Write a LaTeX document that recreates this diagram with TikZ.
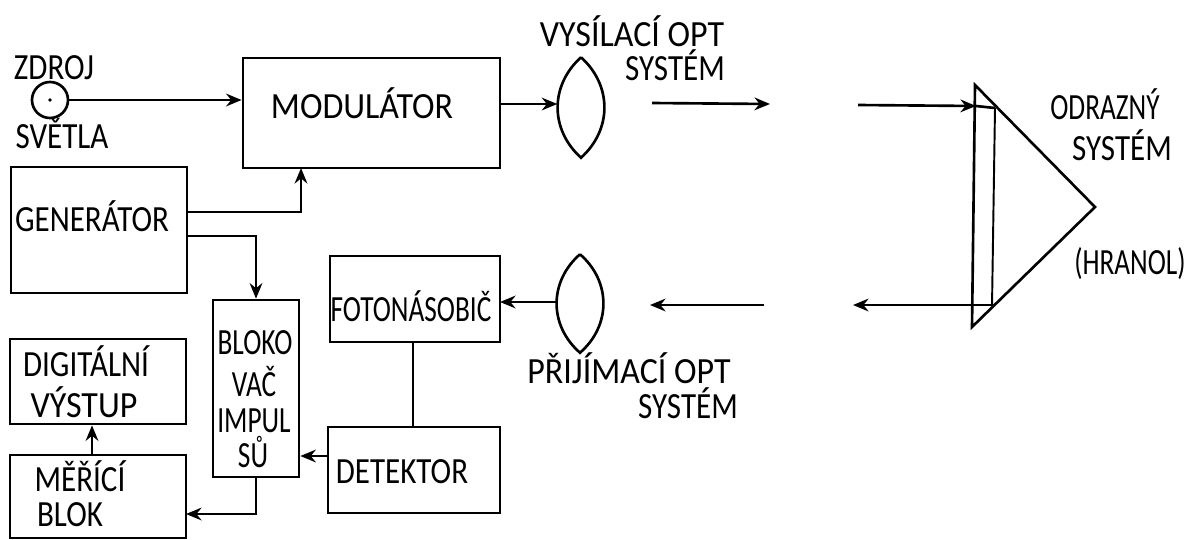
\documentclass[tikz,border=0pt]{standalone}
\usepackage{fontspec}
\setmainfont[FakeStretch=0.84]{Carlito}
\newfontfamily\uzky[FakeStretch=0.74]{Carlito}
\newfontfamily\siroky[FakeStretch=0.92]{Carlito}
\usetikzlibrary{arrows.meta}
\tikzset{
  blok/.style = {draw, line width=0.75pt, inner sep=0pt},
  txt/.style = {inner sep=0pt, font=\fontsize{10.5}{10.5}\selectfont},
  txtuz/.style = {inner sep=0pt, font=\uzky\fontsize{10.5}{10.5}\selectfont},
  txtsi/.style = {inner sep=0pt, font=\siroky\fontsize{10.5}{10.5}\selectfont},
  sipka/.style = {line width=0.75pt, -{Stealth[length=4.4pt,width=3.6pt]}},
  spoj/.style = {line width=0.75pt},
  tenka/.style = {line width=0.55pt}
}
\newcommand{\cocka}[1]{\draw[spoj] (#1.north)
  .. controls ([shift={(-.075cm,.22cm)}]#1.west) and ([shift={(-.075cm,-.22cm)}]#1.west) .. (#1.south)
  .. controls ([shift={(.075cm,-.22cm)}]#1.east) and ([shift={(.075cm,.22cm)}]#1.east) .. (#1.north);}
\begin{document}
\begin{tikzpicture}[x=0.01cm, y=-0.01cm]
\useasboundingbox (0,0) rectangle (1188,539);

% bloky
\node[blok, minimum width=2.57cm, minimum height=1.10cm] (modulator) at (371.5,113) {};
\node[blok, minimum width=1.76cm, minimum height=1.26cm] (generator) at (99,230) {};
\node[blok, minimum width=1.70cm, minimum height=0.86cm] (foto) at (415,299) {};
\node[blok, minimum width=0.86cm, minimum height=1.77cm] (blokovac) at (256,388.5) {};
\node[blok, minimum width=1.72cm, minimum height=0.86cm] (detektor) at (414,470) {};
\node[blok, minimum width=1.76cm, minimum height=0.85cm] (digital) at (98,381.5) {};
\node[blok, minimum width=1.76cm, minimum height=0.83cm] (merici) at (98,496.5) {};

% zdroj
\node[blok, circle, minimum size=0.36cm] (zdroj) at (50,100) {};
\fill (zdroj.center) circle(0.5pt);

% popisy
\node[txt] (tzdroj) at (54,68) {ZDROJ};
\node[txt] (tsvetla) at (62,134) {SVĚTLA};
\node[txtsi] (tmod) at (362,103) {MODULÁTOR};
\node[txt] (tgen) at (92,216) {GENERÁTOR};
\node[txtuz] (tfoto) at (411,306) {FOTONÁSOBIČ};
\node[txtuz] (tbloko) at (255,343) {BLOKO};
\node[txtuz] (tvac) at (254,382) {VAČ};
\node[txtuz] (timpul) at (254,421) {IMPUL};
\node[txtuz] (tsu) at (253,452) {SŮ};
\node[txt] (tdig) at (86,361) {DIGITÁLNÍ};
\node[txtsi] (tvyst) at (84,402) {VÝSTUP};
\node[txt] (tmer) at (80,476) {MĚŘÍCÍ};
\node[txt] (tblok) at (70,515) {BLOK};
\node[txt] (tdet) at (402,472) {DETEKTOR};
\node[txtsi] (tvys) at (632,31) {VYSÍLACÍ OPT};
\node[txt] (tsysa) at (675,65) {SYSTÉM};
\node[txtsi] (tpri) at (629,368) {PŘIJÍMACÍ OPT};
\node[txt] (tsysb) at (688,403) {SYSTÉM};
\node[txtuz] (todr) at (1105,104) {ODRAZNÝ};
\node[txt] (tsysc) at (1122,145) {SYSTÉM};
\node[txtuz] (thra) at (1130,264) {(HRANOL)};

% cocky
\node[minimum width=0.46cm, minimum height=0.99cm, inner sep=0pt] (cockaa) at (581,107.5) {};
\cocka{cockaa}
\node[minimum width=0.46cm, minimum height=0.97cm, inner sep=0pt] (cockab) at (580,303.5) {};
\cocka{cockab}

% hranol
\coordinate (hrtop) at (975,85);
\coordinate (hrapex) at (1095,207);
\coordinate (hrbot) at (972,327);
\coordinate (vnitra) at (995,108);
\coordinate (vnitrb) at (992,306);
\draw[spoj] (hrtop) -- (hrapex) -- (hrbot) -- cycle;
\draw[tenka] (vnitra) -- (vnitrb);

% spoje
\coordinate (genhor) at (187,212);
\coordinate (gendol) at (187,236);
\coordinate (modin) at (301,168);
\coordinate (merin) at (186,514);
\coordinate (detout) at (328,456);
\coordinate (fotodol) at (413,342);
\coordinate (fotoin) at (500,302);
\coordinate (modout) at (500,104);
\coordinate (merup) at (92,455);
\draw[sipka] (zdroj.east) -- (zdroj.east -| modulator.west);
\draw[sipka] (modout) -- (modout -| cockaa.west);
\draw[sipka] (genhor) -| (modin);
\draw[sipka] (gendol) -| (blokovac.north);
\draw[sipka] (blokovac.south) |- (merin);
\draw[sipka] (detout) -- (detout -| blokovac.east);
\draw[spoj] (fotodol) -- (fotodol |- detektor.north);
\draw[sipka] (fotoin -| cockab.west) -- (fotoin);
\draw[sipka] (merup) -- (merup |- digital.south);

% paprsky
\coordinate (raa) at (652,103);
\coordinate (rab) at (770,104);
\coordinate (rba) at (858,105);
\coordinate (rbb) at (976,106);
\coordinate (rca) at (764,305);
\coordinate (rcb) at (650,305);
\coordinate (rda) at (992,305);
\coordinate (rdb) at (853,305);
\draw[sipka] (raa) -- (rab);
\draw[sipka] (rba) -- (rbb);
\draw[spoj] (rbb) -- (vnitra);
\draw[sipka] (rca) -- (rcb);
\draw[sipka] (rda) -- (rdb);
\end{tikzpicture}
\end{document}
